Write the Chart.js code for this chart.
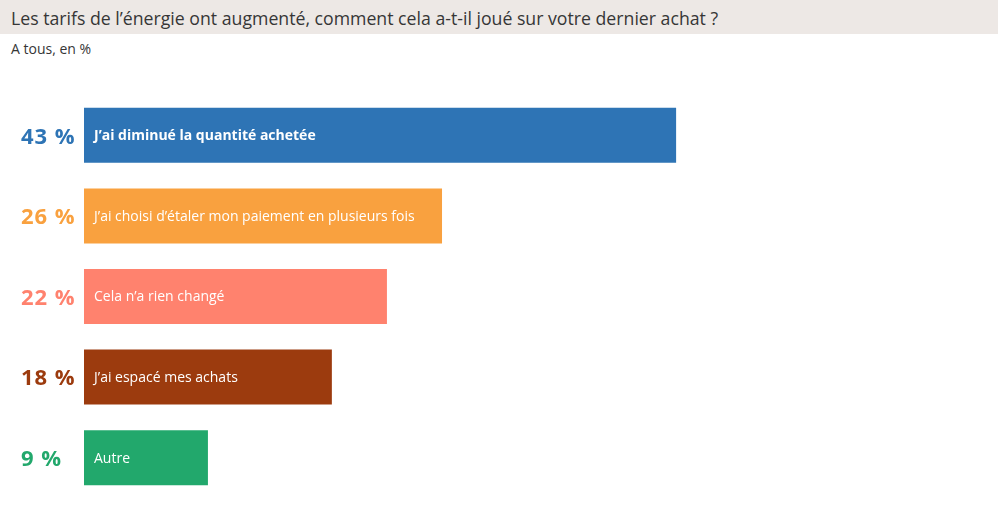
<!DOCTYPE html>
<html><head><meta charset="utf-8">
<script src="https://cdn.jsdelivr.net/npm/chart.js@4/dist/chart.umd.min.js"></script>
<style>
html,body{margin:0;padding:0;width:1000px;height:526px;background:#fff;overflow:hidden;font-family:"Open Sans",sans-serif;}
#band{position:absolute;left:0;top:0;width:998px;height:34px;background:#ede8e5;}
#title{position:absolute;left:11px;top:6px;font-size:17.7px;color:#363636;white-space:nowrap;}
#sub{position:absolute;left:11px;top:39px;font-size:14px;color:#363636;}
#wrap{position:absolute;left:0;top:0;width:1000px;height:526px;}
</style></head><body>
<div id="band"></div>
<div id="title">Les tarifs de l’énergie ont augmenté, comment cela a-t-il joué sur votre dernier achat ?</div>
<div id="sub">A tous, en %</div>
<div id="wrap"><canvas id="c"></canvas></div>
<script>
const categories = ["J’ai diminué la quantité achetée","J’ai choisi d’étaler mon paiement en plusieurs fois","Cela n’a rien changé","J’ai espacé mes achats","Autre"];
const values = [43,26,22,18,9];
const colors = ["#2e74b5","#f9a13f","#ff826e","#9c3b0e","#22a86c"];
const valueLabels = ["43 %","26 %","22 %","18 %","9 %"];

const labelPlugin = {
  id:'labels',
  afterDatasetsDraw(chart){
    const ctx = chart.ctx;
    const meta = chart.getDatasetMeta(0);
    meta.data.forEach((bar,i)=>{
      ctx.save();
      ctx.textBaseline='middle';
      ctx.textAlign='left';
      ctx.fillStyle=colors[i];
      ctx.font='bold 22px "Open Sans"';
      if ('letterSpacing' in ctx) ctx.letterSpacing='1px';
      ctx.fillText(valueLabels[i],21,bar.y+2);
      if ('letterSpacing' in ctx) ctx.letterSpacing='0px';
      ctx.fillStyle='#ffffff';
      ctx.font=(i===0?'bold ':'')+'14px "Open Sans"';
      ctx.fillText(categories[i],bar.base+10,bar.y+1);
      ctx.restore();
    });
  }
};

new Chart(document.getElementById('c'),{
  type:'bar',
  data:{labels:categories,datasets:[{data:values,backgroundColor:colors,borderWidth:0,barPercentage:0.682,categoryPercentage:1}]},
  options:{
    indexAxis:'y',responsive:true,maintainAspectRatio:false,animation:false,
    layout:{padding:{left:84,top:95,bottom:28,right:227.5}},
    plugins:{legend:{display:false},tooltip:{enabled:false},title:{display:false}},
    scales:{x:{display:false,min:0,max:50},y:{display:false}}
  },
  plugins:[labelPlugin]
});
</script>
</body></html>
